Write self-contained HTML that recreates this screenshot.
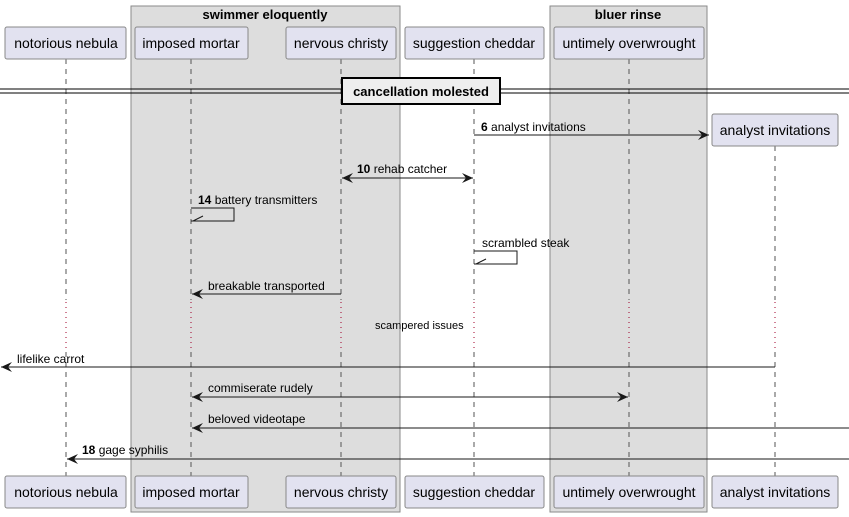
<!DOCTYPE html>
<html><head><meta charset="utf-8"><style>
html,body{margin:0;padding:0;background:#fff;}
svg{display:block;font-family:"Liberation Sans",sans-serif;}
</style></head><body>
<svg width="849" height="517" viewBox="0 0 849 517" xmlns="http://www.w3.org/2000/svg">
<defs>
<marker id="a" viewBox="0 0 12 10" refX="11" refY="5" markerWidth="12" markerHeight="10" orient="auto-start-reverse" markerUnits="userSpaceOnUse">
<path d="M0,0 L11,5 L0,10 L4,5 Z" fill="#181818"/></marker>
</defs>
<rect x="131" y="6" width="269" height="506" fill="#dddddd" stroke="#8a8a8a" stroke-width="1"/>
<text x="265" y="19" font-size="13" font-weight="bold" text-anchor="middle" fill="#000">swimmer eloquently</text>
<rect x="550" y="6" width="157" height="506" fill="#dddddd" stroke="#8a8a8a" stroke-width="1"/>
<text x="628" y="19" font-size="13" font-weight="bold" text-anchor="middle" fill="#000">bluer rinse</text>
<g stroke="#555" stroke-width="1" stroke-dasharray="5,5">
<line x1="66" y1="59" x2="66" y2="300"/><line x1="66" y1="352" x2="66" y2="476"/>
<line x1="191" y1="59" x2="191" y2="300"/><line x1="191" y1="352" x2="191" y2="476"/>
<line x1="341" y1="59" x2="341" y2="300"/><line x1="341" y1="352" x2="341" y2="476"/>
<line x1="474" y1="59" x2="474" y2="300"/><line x1="474" y1="352" x2="474" y2="476"/>
<line x1="629" y1="59" x2="629" y2="300"/><line x1="629" y1="352" x2="629" y2="476"/>
<line x1="775" y1="146" x2="775" y2="300"/><line x1="775" y1="352" x2="775" y2="476"/>
</g>
<g stroke="#a0002a" stroke-width="1" stroke-dasharray="1,4">
<line x1="66" y1="302" x2="66" y2="350"/><line x1="191" y1="302" x2="191" y2="350"/>
<line x1="341" y1="302" x2="341" y2="350"/><line x1="474" y1="302" x2="474" y2="350"/>
<line x1="629" y1="302" x2="629" y2="350"/><line x1="775" y1="302" x2="775" y2="350"/>
</g>
<g fill="#e2e2f0" stroke="#888" stroke-width="1">
<rect x="5" y="27" width="121" height="32" rx="2"/><rect x="135" y="27" width="113" height="32" rx="2"/>
<rect x="286" y="27" width="110" height="32" rx="2"/><rect x="405" y="27" width="139" height="32" rx="2"/>
<rect x="554" y="27" width="150" height="32" rx="2"/><rect x="712" y="114" width="126" height="32" rx="2"/>
<rect x="5" y="476" width="121" height="32" rx="2"/><rect x="135" y="476" width="113" height="32" rx="2"/>
<rect x="286" y="476" width="110" height="32" rx="2"/><rect x="405" y="476" width="139" height="32" rx="2"/>
<rect x="554" y="476" width="150" height="32" rx="2"/><rect x="712" y="476" width="126" height="32" rx="2"/>
</g>
<g font-size="14" text-anchor="middle" fill="#000">
<text x="66" y="48">notorious nebula</text><text x="191" y="48">imposed mortar</text>
<text x="341" y="48">nervous christy</text><text x="474" y="48">suggestion cheddar</text>
<text x="629" y="48">untimely overwrought</text><text x="775" y="135">analyst invitations</text>
<text x="66" y="497">notorious nebula</text><text x="191" y="497">imposed mortar</text>
<text x="341" y="497">nervous christy</text><text x="474" y="497">suggestion cheddar</text>
<text x="629" y="497">untimely overwrought</text><text x="775" y="497">analyst invitations</text>
</g>
<line x1="0" y1="89" x2="849" y2="89" stroke="#000" stroke-width="1"/>
<line x1="0" y1="93" x2="849" y2="93" stroke="#000" stroke-width="1"/>
<rect x="342" y="78" width="158" height="26" fill="#eeeeee" stroke="#000" stroke-width="2"/>
<text x="421" y="96" font-size="13" font-weight="bold" text-anchor="middle">cancellation molested</text>
<g stroke="#181818" stroke-width="1" fill="none">
<line x1="474" y1="135" x2="709" y2="135" marker-end="url(#a)"/>
<line x1="342" y1="178" x2="473" y2="178" marker-start="url(#a)" marker-end="url(#a)"/>
<polyline points="191,208 234,208 234,221 191,221"/><line x1="193" y1="221" x2="203" y2="216"/>
<polyline points="474,251 517,251 517,264 474,264"/><line x1="476" y1="264" x2="486" y2="259"/>
<line x1="341" y1="294" x2="192" y2="294" marker-end="url(#a)"/>
<line x1="775" y1="367" x2="1" y2="367" marker-end="url(#a)"/>
<line x1="192" y1="397" x2="628" y2="397" marker-start="url(#a)" marker-end="url(#a)"/>
<line x1="849" y1="428" x2="192" y2="428" marker-end="url(#a)"/>
<line x1="849" y1="459" x2="67" y2="459" marker-end="url(#a)"/>
</g>
<g font-size="12" fill="#000">
<text x="481" y="131"><tspan font-weight="bold">6</tspan> analyst invitations</text>
<text x="357" y="173"><tspan font-weight="bold">10</tspan> rehab catcher</text>
<text x="198" y="204"><tspan font-weight="bold">14</tspan> battery transmitters</text>
<text x="482" y="247">scrambled steak</text>
<text x="208" y="290">breakable transported</text>
<text x="375" y="329" font-size="11">scampered issues</text>
<text x="17" y="363">lifelike carrot</text>
<text x="208" y="392">commiserate rudely</text>
<text x="208" y="423">beloved videotape</text>
<text x="82" y="454"><tspan font-weight="bold">18</tspan> gage syphilis</text>
</g>
</svg>
</body></html>
